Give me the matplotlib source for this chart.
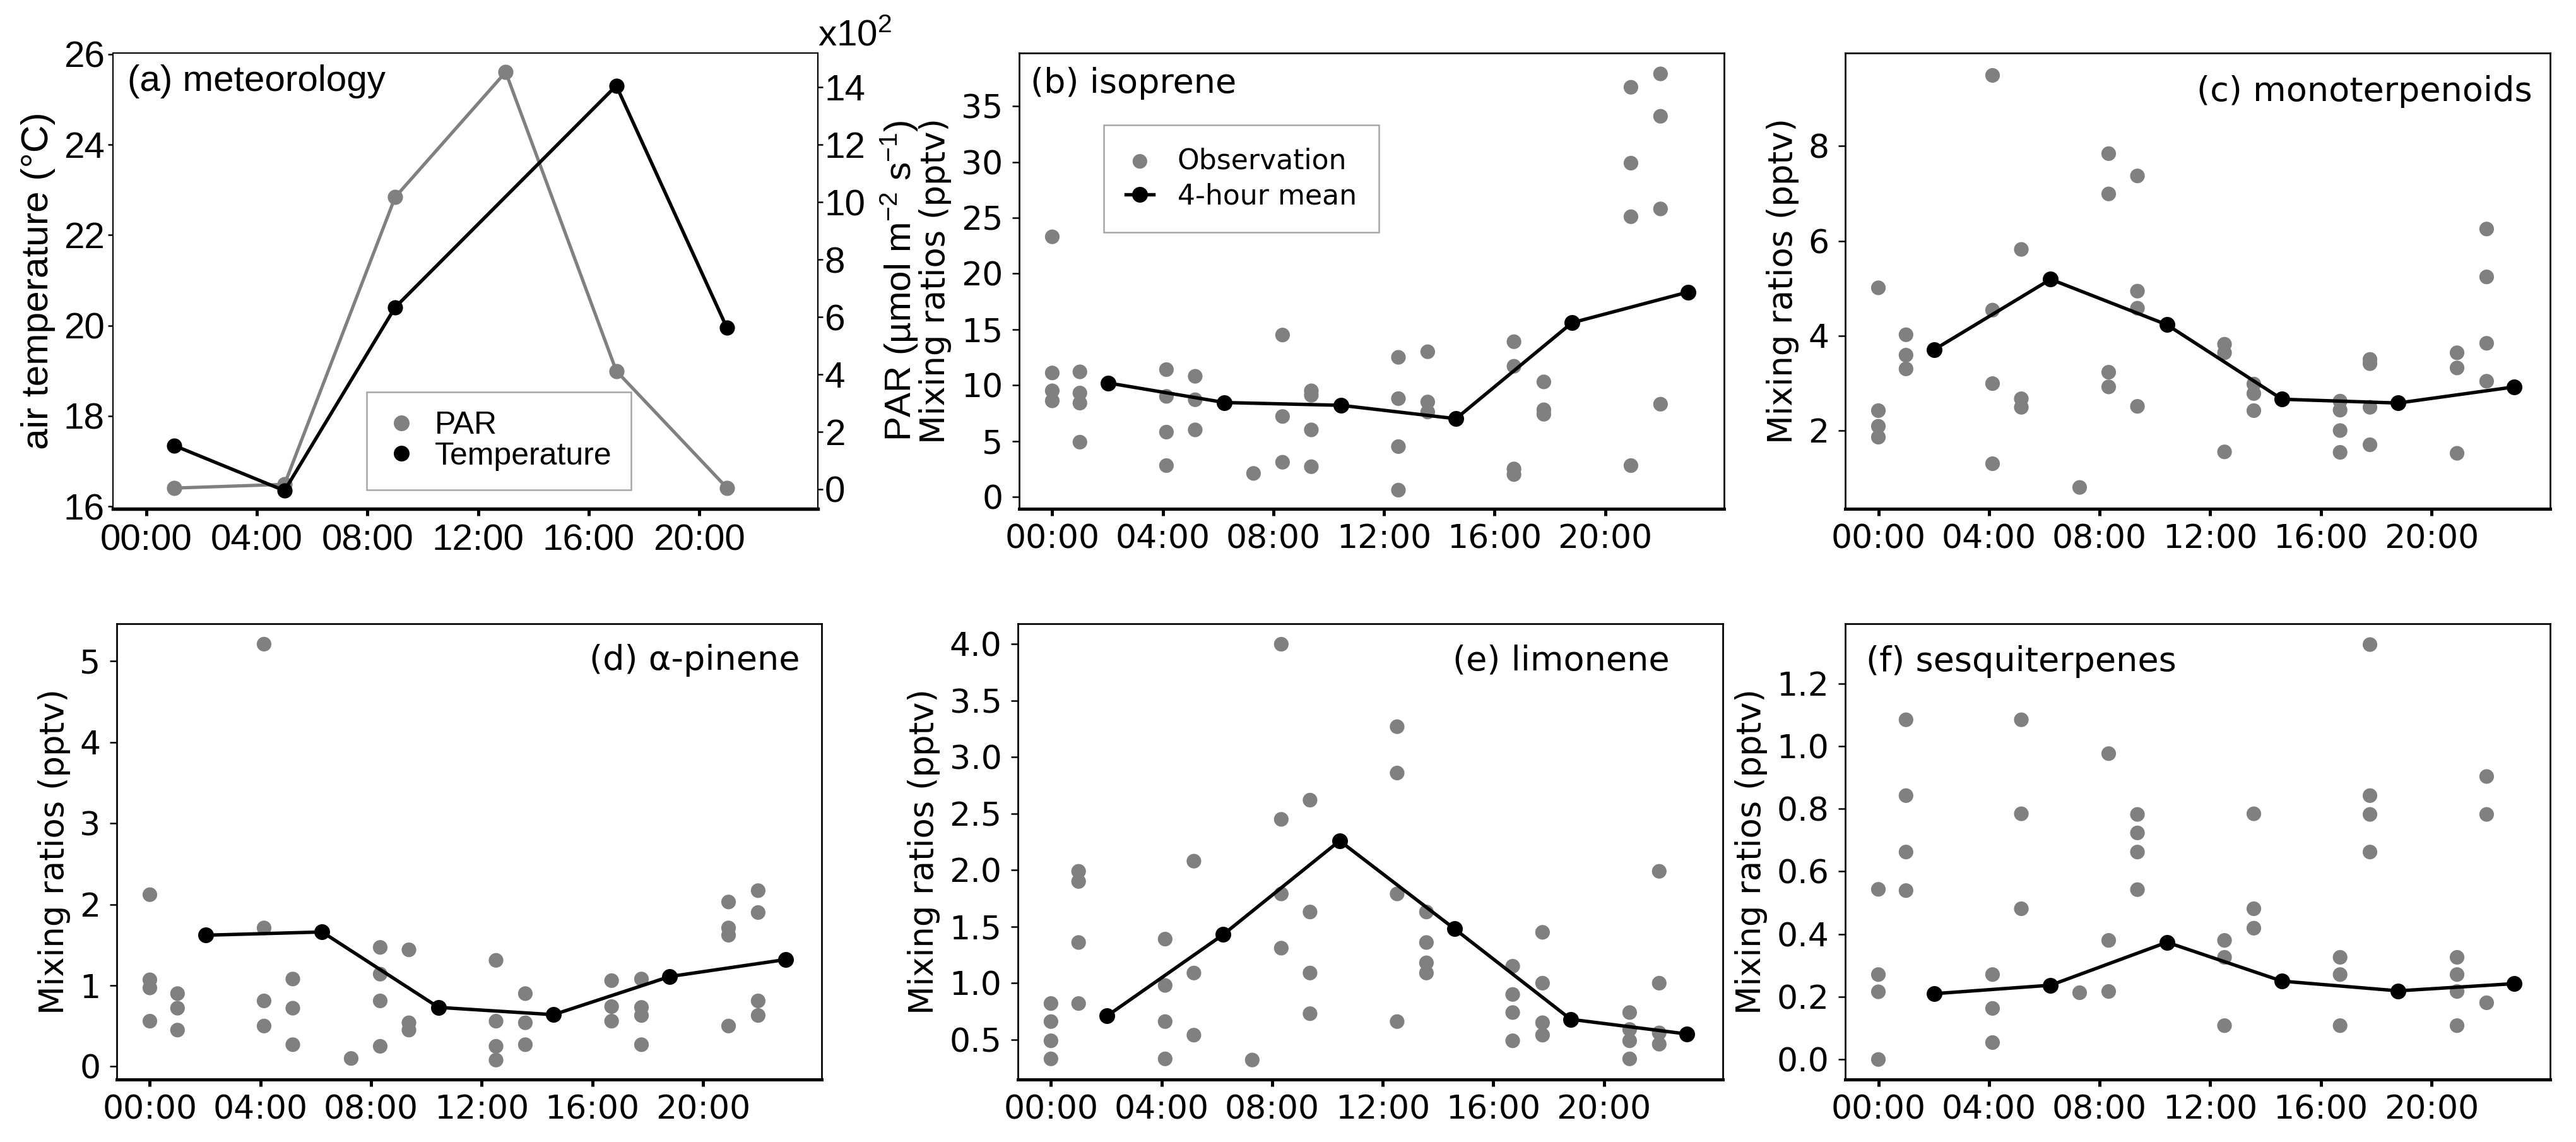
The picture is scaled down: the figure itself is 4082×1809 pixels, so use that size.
import numpy as np
import matplotlib
matplotlib.use('Agg')
import matplotlib.pyplot as plt
from matplotlib.lines import Line2D

plt.rcParams['font.family'] = ['DejaVu Sans']
plt.rcParams['mathtext.fontset'] = 'custom'
plt.rcParams['mathtext.rm'] = 'Liberation Sans'
plt.rcParams['mathtext.it'] = 'Liberation Sans:italic'
plt.rcParams['mathtext.bf'] = 'Liberation Sans:bold'

ARIAL = ['Liberation Sans', 'DejaVu Sans']
GREY = '#808080'

tick_hours = [0, 4, 8, 12, 16, 20]
tick_labels = ['00:00', '04:00', '08:00', '12:00', '16:00', '20:00']

# (a) meteorology
temp_hours = [1, 5, 9, 17, 21]
temperature = [17.35, 16.35, 20.4, 25.3, 19.95]
par_hours = [1, 5, 9, 13, 17, 21]
par = [4, 17, 1017, 1453, 412, 5]          # umol m-2 s-1

# sampling times of the observations and of the 4-hour means
obs_hours = [0.0, 1.0, 4.13, 5.17, 7.28, 8.33, 9.37, 12.52, 13.58, 16.7, 17.78, 20.93, 22.0]
mean_hours = [2.03, 6.23, 10.44, 14.6, 18.8, 23.0]

isoprene_obs = [
    [23.3, 11.1, 9.5, 8.6],
    [11.2, 9.3, 8.4, 4.9],
    [11.4, 9.0, 5.8, 2.8],
    [10.8, 8.7, 6.0],
    [2.1],
    [14.5, 7.2, 3.1],
    [9.5, 9.1, 6.0, 2.7],
    [12.5, 8.8, 4.5, 0.6],
    [13.0, 8.5, 7.6],
    [13.9, 11.7, 2.5, 2.0],
    [10.3, 7.8, 7.4],
    [36.7, 29.9, 25.1, 2.8],
    [37.9, 34.1, 25.8, 8.3],
]
isoprene_mean = [10.2, 8.45, 8.2, 7.0, 15.6, 18.35]

monoterp_obs = [
    [5.01, 2.42, 2.09, 1.86],
    [4.02, 3.59, 3.30],
    [9.49, 4.54, 2.99, 1.30],
    [5.82, 2.67, 2.49],
    [0.80],
    [7.84, 6.99, 3.23, 2.92],
    [7.37, 4.94, 4.58, 2.51],
    [3.82, 3.64, 1.55],
    [2.98, 2.78, 2.42],
    [2.62, 2.43, 2.00, 1.54],
    [3.50, 3.41, 2.49, 1.70],
    [3.64, 3.32, 1.52],
    [6.25, 5.24, 3.84, 3.04],
]
monoterp_mean = [3.71, 5.19, 4.23, 2.66, 2.58, 2.92]

apinene_obs = [
    [2.12, 1.07, 0.97, 0.56],
    [0.90, 0.72, 0.45],
    [5.21, 1.71, 0.81, 0.50],
    [1.08, 0.72, 0.27],
    [0.10],
    [1.47, 1.14, 0.81, 0.25],
    [1.44, 0.54, 0.45],
    [1.31, 0.56, 0.25, 0.08],
    [0.90, 0.54, 0.27],
    [1.06, 0.74, 0.56],
    [1.08, 0.73, 0.63, 0.27],
    [2.03, 1.71, 1.62, 0.50],
    [2.17, 1.90, 0.81, 0.63],
]
apinene_mean = [1.62, 1.66, 0.73, 0.64, 1.11, 1.32]

limonene_obs = [
    [0.82, 0.66, 0.49, 0.33],
    [1.99, 1.90, 1.36, 0.82],
    [1.39, 0.98, 0.66, 0.33],
    [2.08, 1.09, 0.54],
    [0.32],
    [4.00, 2.45, 1.79, 1.31],
    [2.62, 1.63, 1.09, 0.73],
    [3.27, 2.86, 1.79, 0.66],
    [1.63, 1.36, 1.18, 1.09],
    [1.15, 0.90, 0.74, 0.49],
    [1.45, 1.00, 0.65, 0.54],
    [0.74, 0.59, 0.49, 0.33],
    [1.99, 1.00, 0.56, 0.46],
]
limonene_mean = [0.71, 1.43, 2.26, 1.48, 0.68, 0.55]

sesqui_obs = [
    [0.543, 0.271, 0.216, 0.0],
    [1.084, 0.842, 0.662, 0.539],
    [0.271, 0.163, 0.054],
    [1.084, 0.784, 0.481],
    [0.213],
    [0.976, 0.380, 0.217],
    [0.782, 0.723, 0.662, 0.542],
    [0.380, 0.326, 0.108],
    [0.784, 0.481, 0.419],
    [0.326, 0.271, 0.108],
    [1.324, 0.842, 0.782, 0.662],
    [0.326, 0.271, 0.217, 0.108],
    [0.903, 0.782, 0.181],
]
sesqui_mean = [0.210, 0.237, 0.374, 0.250, 0.219, 0.242]

isoprene_ticks = [0, 5, 10, 15, 20, 25, 30, 35]
monoterp_ticks = [2, 4, 6, 8]
apinene_ticks = [0, 1, 2, 3, 4, 5]
limonene_ticks = [0.5, 1.0, 1.5, 2.0, 2.5, 3.0, 3.5, 4.0]
sesqui_ticks = [0.0, 0.2, 0.4, 0.6, 0.8, 1.0, 1.2]

fig = plt.figure(figsize=(4082 / 300, 1809 / 300), dpi=300)

W = 0.2737
H = 0.3990
TOP_Y = 0.5545
BOT_Y = 0.0547


def style_axes(ax, thin=0.65, thick=1.2):
    for side in ['left', 'right', 'top']:
        ax.spines[side].set_linewidth(thin)
    ax.spines['bottom'].set_linewidth(thick)
    ax.set_xlim(-1.2, 24.3)
    ax.set_xticks(tick_hours)
    ax.set_xticklabels(tick_labels)
    ax.tick_params(axis='x', direction='out', length=2.6, width=1.2, pad=3)
    ax.tick_params(axis='y', direction='out', length=2.6, width=0.6, pad=3.5)


# ---------- (a) meteorology ----------
ax = fig.add_axes([0.0439, TOP_Y, W, H])
ax2 = ax.twinx()
style_axes(ax, thin=0.5, thick=1.3)
ax2.spines['right'].set_linewidth(0.5)
ax2.spines['bottom'].set_visible(False)
ax2.spines['top'].set_visible(False)
ax2.spines['left'].set_visible(False)

ax2.plot(par_hours, np.array(par) / 100, '-o', color=GREY, lw=1.25, ms=5.8, mec='none')
ax.plot(temp_hours, temperature, '-o', color='black', lw=1.3, ms=5.8, mec='none')
ax.set_zorder(ax2.get_zorder() + 1)
ax.patch.set_visible(False)

ax.set_ylim(15.95, 26.02)
ax.set_yticks([16, 18, 20, 22, 24, 26])
ax2.set_ylim(-0.68, 15.19)
ax2.set_yticks([0, 2, 4, 6, 8, 10, 12, 14])
ax.tick_params(axis='y', length=2.0, width=0.6, pad=1.2)
ax2.tick_params(axis='y', direction='out', length=2.0, width=0.6, pad=0.5)
for lab in ax.get_xticklabels() + ax.get_yticklabels() + ax2.get_yticklabels():
    lab.set_family(ARIAL)
    lab.set_fontsize(14)
ax.set_ylabel('air temperature (°C)', family=ARIAL, fontsize=14.5, labelpad=3)
ax2.set_ylabel('PAR (µmol m$^{-2}$ s$^{-1}$)', family=ARIAL, fontsize=14, labelpad=5)
ax.text(1.0, 1.0, 'x10$^{2}$', transform=ax.transAxes, ha='left', va='bottom',
        family=ARIAL, fontsize=14)
ax.text(0.02, 0.975, '(a) meteorology', transform=ax.transAxes, ha='left', va='top',
        family=ARIAL, fontsize=14)
handles = [Line2D([], [], ls='none', marker='o', color=GREY, ms=6, mec='none'),
           Line2D([], [], ls='none', marker='o', color='black', ms=6, mec='none')]
leg = ax.legend(handles, ['PAR', 'Temperature'], loc='lower left',
                bbox_to_anchor=(0.36, 0.042), borderaxespad=0, fancybox=False,
                edgecolor='#909090', prop={'family': ARIAL, 'size': 12},
                handlelength=1.0, handletextpad=0.55, labelspacing=0.05,
                borderpad=0.6)
leg.get_frame().set_linewidth(0.6)


# ---------- (b)-(f) BVOCs ----------
panels = [
    ([0.3956, TOP_Y, W, H], isoprene_obs, isoprene_mean, (-1.07, 39.76),
     isoprene_ticks, '%d', '(b) isoprene', (0.016, 0.969), 'left'),
    ([0.7163, TOP_Y, W, H], monoterp_obs, monoterp_mean, (0.35, 9.96),
     monoterp_ticks, '%d', '(c) monoterpenoids', (0.974, 0.952), 'right'),
    ([0.0453, BOT_Y, W, H], apinene_obs, apinene_mean, (-0.16, 5.46),
     apinene_ticks, '%d', '(d) α-pinene', (0.969, 0.956), 'right'),
    ([0.3951, BOT_Y, W, H], limonene_obs, limonene_mean, (0.147, 4.18),
     limonene_ticks, '%.1f', '(e) limonene', (0.924, 0.956), 'right'),
    ([0.7163, BOT_Y, W, H], sesqui_obs, sesqui_mean, (-0.064, 1.39),
     sesqui_ticks, '%.1f', '(f) sesquiterpenes', (0.03, 0.953), 'left'),
]

for rect, obs, mean, ylim, yticks, fmt, title, tpos, tha in panels:
    ax = fig.add_axes(rect)
    style_axes(ax)
    xs = [h for h, col in zip(obs_hours, obs) for _ in col]
    ys = [v for col in obs for v in col]
    sc = ax.scatter(xs, ys, s=31, color=GREY, edgecolors='none', zorder=2)
    ln, = ax.plot(mean_hours, mean, '-o', color='black', lw=1.3, ms=6.0,
                  mec='none', zorder=3)
    ax.set_ylim(*ylim)
    ax.set_yticks(yticks)
    ax.set_yticklabels([fmt % v for v in yticks])
    ax.tick_params(labelsize=12.5)
    ax.set_ylabel('Mixing ratios (pptv)', fontsize=12.7, labelpad=3.5)
    ax.text(tpos[0], tpos[1], title, transform=ax.transAxes, ha=tha, va='top',
            fontsize=13)
    if title.startswith('(b)'):
        leg = ax.legend([sc, ln], ['Observation', '4-hour mean'], loc='lower left',
                        bbox_to_anchor=(0.12, 0.607), borderaxespad=0,
                        fancybox=False, edgecolor='#909090', fontsize=10.6,
                        handlelength=1.0, handletextpad=0.85, labelspacing=0.3,
                        borderpad=0.8, scatterpoints=1)
        leg.get_frame().set_linewidth(0.6)

fig.savefig('out.png', dpi=300)
